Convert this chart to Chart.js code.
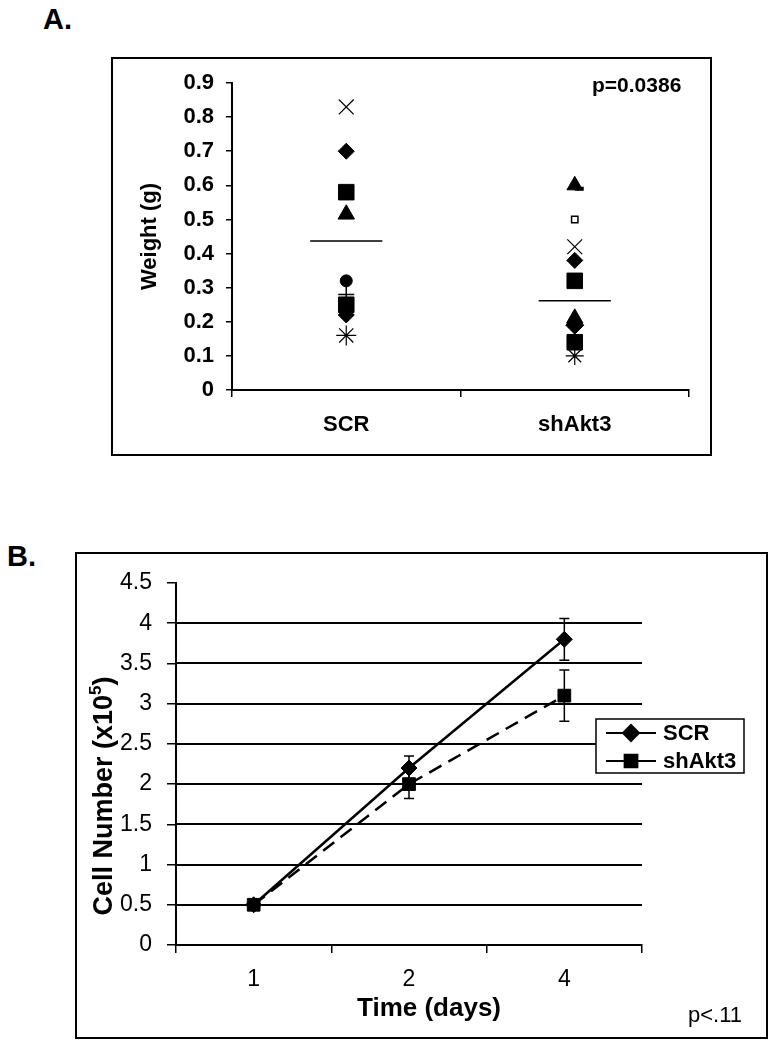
<!DOCTYPE html>
<html>
<head>
<meta charset="utf-8">
<script src="https://cdn.jsdelivr.net/npm/chart.js@4.4.0/dist/chart.umd.min.js"></script>
<style>
html,body{margin:0;padding:0;background:#fff;}
body{width:779px;height:1050px;position:relative;overflow:hidden;font-family:Arial,"Liberation Sans",sans-serif;color:#000;}
canvas{position:absolute;}
.box{position:absolute;border:2px solid #000;box-sizing:border-box;pointer-events:none;}
.txt{position:absolute;white-space:nowrap;line-height:1;}
.b{font-weight:bold;}
</style>
</head>
<body>
<div class="txt b" style="left:43px;top:5px;font-size:29px;">A.</div>
<div class="txt b" style="left:7px;top:542px;font-size:29px;">B.</div>

<canvas id="chartA" width="601" height="399" style="left:111px;top:57px;"></canvas>
<div class="box" style="left:111px;top:57px;width:601px;height:399px;"></div>
<div class="txt b" style="left:592px;top:74px;font-size:21px;">p=0.0386</div>

<canvas id="chartB" width="693" height="487" style="left:75px;top:552px;"></canvas>
<div class="box" style="left:75px;top:552px;width:693px;height:487px;"></div>
<div class="txt b" style="left:103px;top:796px;font-size:27px;transform:translate(-50%,-50%) rotate(-90deg);">Cell Number (x10<sup style="font-size:17px;vertical-align:0;position:relative;top:-11px;">5</sup>)</div>
<div class="txt b" style="left:429px;top:994px;font-size:26px;transform:translateX(-50%);">Time (days)</div>
<div class="txt" style="left:688px;top:1004px;font-size:22px;">p&lt;.11</div>

<script>
// ---------- Data ----------
const groupLabels = ['SCR', 'shAkt3'];
const scrWeights = [0.83, 0.70, 0.58, 0.515, 0.32, 0.28, 0.25, 0.22, 0.16];
const shAkt3Weights = [0.60, 0.59, 0.50, 0.42, 0.38, 0.32, 0.21, 0.19, 0.14, 0.10];
const groupMeans = [0.437, 0.262];
const weightTicks = [0, 0.1, 0.2, 0.3, 0.4, 0.5, 0.6, 0.7, 0.8, 0.9];

const dayLabels = ['1', '2', '4'];
const scrCells = [0.5, 2.2, 3.8];
const scrCellsErr = [0, 0.15, 0.26];
const shAkt3Cells = [0.5, 2.0, 3.1];
const shAkt3CellsErr = [0, 0.18, 0.32];
const cellTicks = [0, 0.5, 1, 1.5, 2, 2.5, 3, 3.5, 4, 4.5];

// ---------- Marker styles (panel A) ----------
const scrMarkerStyles = [
  {s:'crossRot', r:10.5, w:1.2, f:'#000'},
  {s:'rectRot', r:8, w:1, f:'#000'},
  {s:'rect', r:11, w:1, f:'#000'},
  {s:'triangle', r:9.5, w:1, f:'#000'},
  {s:'circle', r:6, w:1, f:'#000'},
  {s:'cross', r:8, w:1.5, f:'#000'},
  {s:'rect', r:11, w:1, f:'#000'},
  {s:'rectRot', r:8, w:1, f:'#000'},
  {s:'star', r:10, w:1.2, f:'#000'}
];
const shAkt3MarkerStyles = [
  {s:'triangle', r:9, w:1, f:'#000'},
  {s:'dash', r:9, w:4, f:'#000'},
  {s:'rect', r:4.5, w:1.5, f:'#fff'},
  {s:'crossRot', r:10.5, w:1.2, f:'#000'},
  {s:'rectRot', r:8, w:1, f:'#000'},
  {s:'rect', r:11, w:1, f:'#000'},
  {s:'triangle', r:9.5, w:1, f:'#000'},
  {s:'rectRot', r:9, w:1, f:'#000'},
  {s:'rect', r:11, w:1, f:'#000'},
  {s:'star', r:9, w:1.2, f:'#000'}
];

Chart.defaults.font.family = 'Arial, "Liberation Sans", sans-serif';
Chart.defaults.color = '#000';

function markerDataset(label, values, styles) {
  return {
    label: label,
    data: values.map(v => ({x: label, y: v})),
    showLine: false,
    pointStyle: styles.map(s => s.s),
    pointRadius: styles.map(s => s.r),
    pointHoverRadius: styles.map(s => s.r),
    pointBorderWidth: styles.map(s => s.w),
    pointBackgroundColor: styles.map(s => s.f),
    pointBorderColor: '#000'
  };
}

const meanLinePlugin = {
  id: 'meanLines',
  afterDatasetsDraw(chart) {
    const ctx = chart.ctx, xs = chart.scales.x, ys = chart.scales.y;
    const half = 0.158 * xs.width / groupLabels.length;
    ctx.save();
    ctx.strokeStyle = '#000';
    ctx.lineWidth = 1.5;
    groupMeans.forEach((m, i) => {
      const x = xs.getPixelForValue(i), y = ys.getPixelForValue(m);
      ctx.beginPath();
      ctx.moveTo(x - half, y);
      ctx.lineTo(x + half, y);
      ctx.stroke();
    });
    ctx.restore();
  }
};

new Chart(document.getElementById('chartA'), {
  type: 'line',
  data: {
    labels: groupLabels,
    datasets: [
      markerDataset('SCR', scrWeights, scrMarkerStyles),
      markerDataset('shAkt3', shAkt3Weights, shAkt3MarkerStyles)
    ]
  },
  options: {
    responsive: false,
    animation: false,
    events: [],
    layout: {padding: {top: 26, right: 23, left: 0, bottom: 0}},
    plugins: {legend: {display: false}, tooltip: {enabled: false}},
    scales: {
      x: {
        type: 'category',
        offset: true,
        grid: {offset: true, drawOnChartArea: false, color: '#000', lineWidth: 1.5, tickLength: 7},
        border: {color: '#000', width: 2},
        ticks: {font: {size: 22, weight: 'bold'}, color: '#000', padding: 15},
        afterFit(s) { s.height = 66; }
      },
      y: {
        min: 0, max: 0.9,
        afterBuildTicks(s) { s.ticks = weightTicks.map(v => ({value: v})); },
        ticks: {
          font: {size: 22, weight: 'bold'}, color: '#000', padding: 12,
          callback: v => (v === 0 ? '0' : Number(v).toFixed(1))
        },
        grid: {drawOnChartArea: false, color: '#000', lineWidth: 1.5, tickLength: 6},
        border: {color: '#000', width: 2},
        title: {display: true, text: 'Weight (g)', font: {size: 22, weight: 'bold'}, color: '#000', padding: {top: 26, bottom: 0}},
        afterFit(s) { s.width = 121; }
      }
    }
  },
  plugins: [meanLinePlugin]
});

// ---------- Panel B ----------
const errorData = [scrCellsErr, shAkt3CellsErr];
const errorBarPlugin = {
  id: 'errorBars',
  beforeDatasetsDraw(chart) {
    const ctx = chart.ctx, ys = chart.scales.y;
    ctx.save();
    ctx.strokeStyle = '#000';
    ctx.lineWidth = 1.5;
    chart.data.datasets.forEach((ds, di) => {
      const meta = chart.getDatasetMeta(di);
      meta.data.forEach((pt, i) => {
        const e = errorData[di][i];
        if (!e) return;
        const v = ds.data[i];
        const yt = ys.getPixelForValue(v + e), yb = ys.getPixelForValue(v - e);
        ctx.beginPath();
        ctx.moveTo(pt.x, yt); ctx.lineTo(pt.x, yb);
        ctx.moveTo(pt.x - 5, yt); ctx.lineTo(pt.x + 5, yt);
        ctx.moveTo(pt.x - 5, yb); ctx.lineTo(pt.x + 5, yb);
        ctx.stroke();
      });
    });
    ctx.restore();
  }
};

const legendBoxPlugin = {
  id: 'legendBox',
  afterDraw(chart) {
    const ctx = chart.ctx;
    const bx = 521, by = 167, bw = 148, bh = 54;
    ctx.save();
    ctx.fillStyle = '#fff';
    ctx.fillRect(bx, by, bw, bh);
    ctx.strokeStyle = '#000';
    ctx.lineWidth = 1.5;
    ctx.strokeRect(bx, by, bw, bh);
    chart.data.datasets.forEach((ds, i) => {
      const cy = by + 14 + i * 28;
      ctx.strokeStyle = '#000';
      ctx.lineWidth = 2;
      ctx.setLineDash([]);
      ctx.beginPath();
      ctx.moveTo(bx + 10, cy); ctx.lineTo(bx + 60, cy);
      ctx.stroke();
      ctx.fillStyle = '#000';
      Chart.helpers.drawPoint(ctx, {pointStyle: ds.pointStyle, radius: ds.pointRadius, borderWidth: 1, rotation: 0}, bx + 35, cy);
      ctx.fillStyle = '#000';
      ctx.font = 'bold 22px Arial, "Liberation Sans", sans-serif';
      ctx.textBaseline = 'middle';
      ctx.textAlign = 'left';
      ctx.fillText(ds.label, bx + 67, cy + 1);
    });
    ctx.restore();
  }
};

new Chart(document.getElementById('chartB'), {
  type: 'line',
  data: {
    labels: dayLabels,
    datasets: [
      {
        label: 'SCR', data: scrCells,
        borderColor: '#000', borderWidth: 2.5, tension: 0,
        pointStyle: 'rectRot', pointRadius: 8, pointHoverRadius: 8,
        pointBackgroundColor: '#000', pointBorderColor: '#000', pointBorderWidth: 1
      },
      {
        label: 'shAkt3', data: shAkt3Cells,
        borderColor: '#000', borderWidth: 2.5, borderDash: [14, 8], tension: 0,
        pointStyle: 'rect', pointRadius: 9, pointHoverRadius: 9,
        pointBackgroundColor: '#000', pointBorderColor: '#000', pointBorderWidth: 1
      }
    ]
  },
  options: {
    responsive: false,
    animation: false,
    events: [],
    layout: {padding: {top: 31, right: 126, left: 0, bottom: 0}},
    plugins: {legend: {display: false}, tooltip: {enabled: false}},
    scales: {
      x: {
        type: 'category',
        offset: true,
        grid: {offset: true, drawOnChartArea: false, color: '#000', lineWidth: 1.5, tickLength: 8},
        border: {color: '#000', width: 2},
        ticks: {font: {size: 23}, color: '#000', padding: 13},
        afterFit(s) { s.height = 94; }
      },
      y: {
        position: 'left',
        min: 0, max: 4.5,
        afterBuildTicks(s) { s.ticks = cellTicks.map(v => ({value: v})); },
        ticks: {font: {size: 23}, color: '#000', padding: 15, callback: v => String(v)},
        grid: {drawOnChartArea: false, color: '#000', lineWidth: 1.5, tickLength: 9},
        border: {color: '#000', width: 2},
        afterFit(s) { s.width = 101; }
      },
      yGrid: {
        position: 'left',
        min: 0, max: 4.5,
        afterBuildTicks(s) { s.ticks = cellTicks.map(v => ({value: v})); },
        ticks: {display: false},
        grid: {
          drawTicks: false,
          lineWidth: 2,
          color: c => (c.tick && (c.tick.value === 4.5 || c.tick.value === 0)) ? 'rgba(0,0,0,0)' : '#000'
        },
        border: {display: false},
        afterFit(s) { s.width = 0; }
      }
    }
  },
  plugins: [errorBarPlugin, legendBoxPlugin]
});
</script>
</body>
</html>
